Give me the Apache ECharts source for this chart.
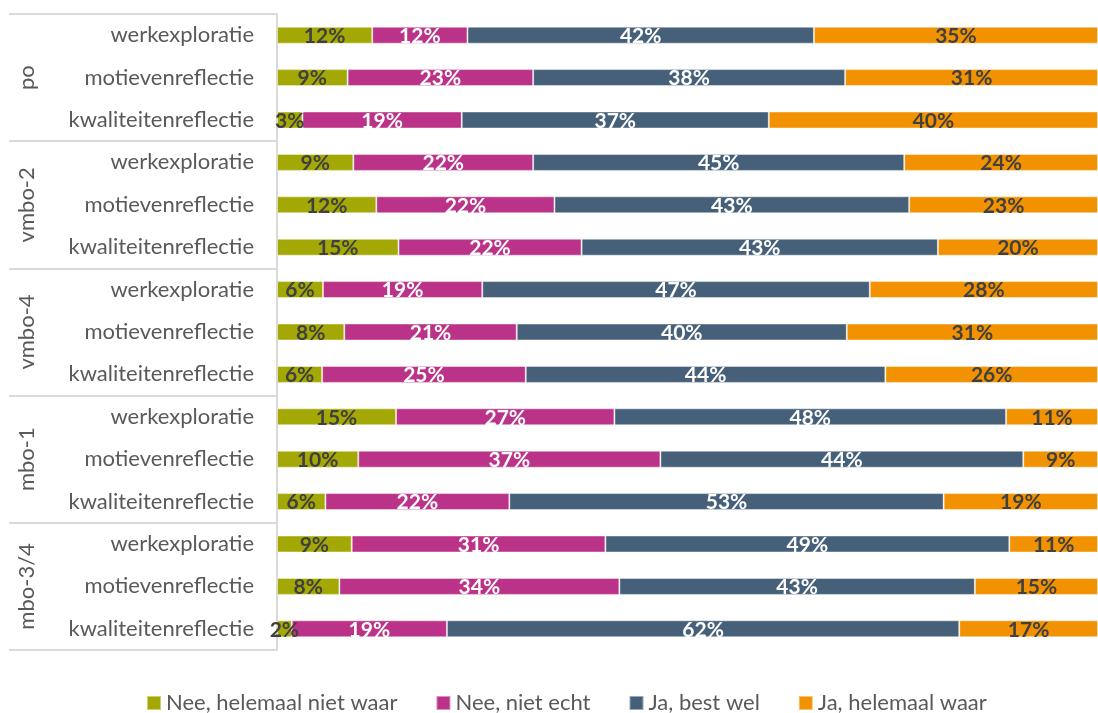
<!DOCTYPE html>
<html>

<head>
  <meta charset="utf-8" />
  <title></title>
  <script src="https://cdn.jsdelivr.net/npm/echarts@6/dist/echarts.min.js"></script>
  <style>
    html, body { margin: 0; padding: 0; background: #fff; }
  </style>
</head>

<body>
  <div id="main" style="width: 1098px;height:713px;"></div>
  <script type="text/javascript">
    // groepen en items (van boven naar beneden)
    var groups = ['po', 'vmbo-2', 'vmbo-4', 'mbo-1', 'mbo-3/4'];
    var items = ['werkexploratie', 'motievenreflectie', 'kwaliteitenreflectie'];
    var legendNames = ['Nee, helemaal niet waar', 'Nee, niet echt', 'Ja, best wel', 'Ja, helemaal waar'];

    // percentages per rij, 15 rijen
    var neeHelemaal = [11.6, 8.6, 3.1, 9.3, 12.1, 14.8, 5.6, 8.2, 5.5, 14.5, 9.9, 5.9, 9.1, 7.6, 1.8];
    var neeNiet = [11.6, 22.6, 19.4, 21.9, 21.7, 22.3, 19.4, 21.0, 24.8, 26.6, 36.8, 22.4, 30.9, 34.1, 18.9];
    var jaBest = [42.2, 38.0, 37.4, 45.2, 43.2, 43.4, 47.2, 40.2, 43.8, 47.7, 44.2, 52.9, 49.2, 43.3, 62.4];
    var jaHelemaal = [34.6, 30.8, 40.1, 23.6, 23.0, 19.5, 27.8, 30.6, 25.9, 11.2, 9.1, 18.8, 10.8, 15.0, 16.9];

    var colors = ['#a4a804', '#bb3388', '#46607a', '#f29200'];
    var labelColors = ['#404040', '#ffffff', '#ffffff', '#404040'];

    var rows = [];
    groups.forEach(function (g) {
      items.forEach(function (it) { rows.push(it); });
    });

    var font = 'Lato, "Open Sans", sans-serif';

    function makeSeries(name, data, i) {
      return {
        name: name,
        type: 'bar',
        stack: 'total',
        barWidth: 17,
        data: data,
        itemStyle: { color: colors[i], borderColor: 'rgba(255,255,255,0.45)', borderWidth: 1 },
        label: {
          show: true,
          position: 'inside',
          offset: [0, 1],
          color: labelColors[i],
          fontFamily: font,
          fontWeight: 'bold',
          fontSize: 21,
          formatter: function (p) { return Math.round(p.value) + '%'; }
        }
      };
    }

    var chart = echarts.init(document.getElementById('main'));
    var option = {
      animation: false,
      color: colors,
      grid: { left: 277, right: 0, top: 14, bottom: 63 },
      legend: {
        data: legendNames,
        bottom: -6,
        left: 141,
        icon: 'rect',
        itemWidth: 14,
        itemHeight: 14,
        itemGap: 38,
        textStyle: { color: '#595959', fontSize: 22, fontFamily: font }
      },
      xAxis: { type: 'value', min: 0, max: 100, show: false },
      yAxis: [
        {
          type: 'category',
          inverse: true,
          data: rows,
          axisLine: { show: false },
          axisTick: { show: false },
          axisLabel: { color: '#595959', fontSize: 22, fontFamily: font, margin: 23 }
        },
        {
          type: 'category',
          inverse: true,
          position: 'left',
          data: groups,
          axisLine: { show: true, lineStyle: { color: '#d9d9d9', width: 2 } },
          axisTick: { show: true, length: 268, lineStyle: { color: '#d9d9d9', width: 2 } },
          axisLabel: { color: '#595959', fontSize: 22, fontFamily: font, rotate: 90, margin: 239 }
        }
      ],
      series: [
        makeSeries(legendNames[0], neeHelemaal, 0),
        makeSeries(legendNames[1], neeNiet, 1),
        makeSeries(legendNames[2], jaBest, 2),
        makeSeries(legendNames[3], jaHelemaal, 3)
      ]
    };
    chart.setOption(option);
  </script>
</body>

</html>
